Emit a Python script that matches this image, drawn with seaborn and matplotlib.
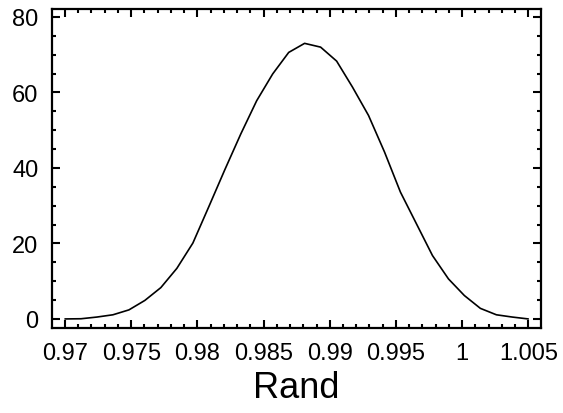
import matplotlib
matplotlib.use("Agg")
import matplotlib.pyplot as plt
import seaborn as sns
import pandas as pd
from matplotlib.ticker import MultipleLocator

# Data
rand = [0.97000, 0.97121, 0.97241, 0.97362, 0.97483, 0.97603, 0.97724, 0.97845,
        0.97966, 0.98086, 0.98207, 0.98328, 0.98448, 0.98569, 0.98690, 0.98810,
        0.98931, 0.99052, 0.99172, 0.99293, 0.99414, 0.99534, 0.99655, 0.99776,
        0.99897, 1.00017, 1.00138, 1.00259, 1.00379, 1.00500]
density = [0.0, 0.05, 0.5, 1.1, 2.4, 4.9, 8.3, 13.4,
           20.1, 29.7, 39.5, 49.0, 57.8, 64.9, 70.6, 73.0,
           72.0, 68.3, 61.4, 53.9, 44.2, 33.6, 25.2, 16.8,
           10.6, 6.2, 2.8, 1.1, 0.5, 0.0]
x_ticks = [0.97, 0.975, 0.98, 0.985, 0.99, 0.995, 1.0, 1.005]
x_tick_labels = ["0.97", "0.975", "0.98", "0.985", "0.99", "0.995", "1", "1.005"]
y_ticks = [0, 20, 40, 60, 80]

df = pd.DataFrame({"Rand": rand, "density": density})

sns.set_theme(style="ticks")
plt.rcParams['font.family'] = ['Liberation Sans', 'DejaVu Sans']

fig = plt.figure(figsize=(5.63, 4.14), dpi=100)
ax = fig.add_axes([52.3 / 563, 1 - 329 / 414, (541 - 52.3) / 563, (329 - 10) / 414])

sns.lineplot(data=df, x="Rand", y="density", ax=ax, color="black", linewidth=1.2)

ax.set_xlim(0.96904, 1.00596)
ax.set_ylim(-2.4, 82.1)
ax.set_xticks(x_ticks)
ax.set_xticklabels(x_tick_labels)
ax.set_yticks(y_ticks)
ax.xaxis.set_minor_locator(MultipleLocator(0.001))
ax.yaxis.set_minor_locator(MultipleLocator(5))

for side in ["left", "right", "top", "bottom"]:
    ax.spines[side].set_visible(True)
    ax.spines[side].set_linewidth(1.6)
    ax.spines[side].set_color("black")

ax.tick_params(which="both", direction="in", top=True, right=True,
               color="black", width=1.5, labelsize=17, labelcolor="black", pad=10)
ax.tick_params(which="major", length=6)
ax.tick_params(which="minor", length=3)

ax.set_xlabel("Rand", fontsize=26, labelpad=4.5, color="black")
ax.set_ylabel("")
ax.grid(False)

fig.savefig("out.png", dpi=100, facecolor="white")
